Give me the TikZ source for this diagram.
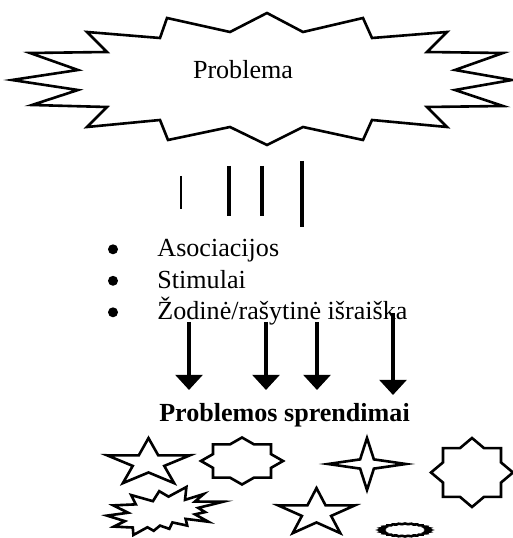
\documentclass[tikz,border=0pt]{standalone}
\usepackage{fontspec}
\setmainfont{Liberation Serif}
\usetikzlibrary{arrows.meta}

\tikzset{
  outline/.style={draw=black, line width=1.2pt, fill=white},
  txt/.style={font=\fontsize{12}{14}\selectfont, inner sep=0pt},
  dot/.style={circle, fill=black, inner sep=0pt, minimum size=4.6pt},
  dnarrow/.style={line width=1.6pt, -{Triangle[width=12.4pt,length=7pt]}}
}

% star polygon: centre, x radius, y radius, points, inner ratio, start angle
\newcommand{\starpoly}[6]{%
  \begin{scope}[shift={#1}, xscale=#2, yscale=#3]
    \pgfmathtruncatemacro{\lastk}{2*#4-1}
    \draw[outline] (#6:1) \foreach \k [evaluate=\k as \r using {1-(1-#5)*mod(\k,2)}] in {1,...,\lastk} {-- ({#6+180/#4*\k}:\r)} -- cycle;
  \end{scope}}

\begin{document}
\begin{tikzpicture}[x=0.46pt, y=0.46pt]
\useasboundingbox (0,0) rectangle (513,538);
% Problem burst at the top
\draw[outline] (267,525) -- (303,506) -- (363,520) -- (372,500) -- (447,506) -- (427,486)
  -- (503,485) -- (455,468) -- (512,458) -- (455,448) -- (503,432) -- (427,431)
  -- (447,411) -- (372,418) -- (363,398) -- (303,411) -- (267,393) -- (230,411)
  -- (168,398) -- (160,418) -- (87,411) -- (107,431) -- (32,433) -- (78,448)
  -- (12,458) -- (78,468) -- (30,485) -- (107,486) -- (87,506) -- (160,500)
  -- (167,520) -- (230,506) -- cycle;
\node[txt, anchor=base] (prob) at (243,459) {Problema};
% Short vertical strokes
\foreach \x/\ya/\yb/\w [count=\i] in {181/362/329/1.05, 229/372/322/1.4, 262/372/322/1.4, 302/377/311/1.5} {
  \coordinate (top\i) at (\x,\ya);
  \coordinate (bot\i) at (\x,\yb);
  \draw[line width=\w pt] (top\i) -- (bot\i);
}
% Bullet list
\foreach \t [count=\i] in {Asociacijos, Stimulai, {Žodinė/rašytinė išraiška}} {
  \node[dot] (dot\i) at (113,{288.7-31.5*(\i-1)}) {};
  \node[txt, anchor=base west] (item\i) at (157,{281-31.5*(\i-1)}) {\t};
}
% Arrows down
\foreach \x/\ya/\yb [count=\i] in {189/216/148, 266/216/148, 317/216/148, 393/225/143} {
  \coordinate (as\i) at (\x,\ya);
  \coordinate (ae\i) at (\x,\yb);
  \draw[dnarrow] (as\i) -- (ae\i);
}
\node[txt, font=\fontsize{12}{14}\selectfont\bfseries, anchor=base] (sol) at (284.5,116) {Problemos sprendimai};
% Solution shapes
\starpoly{(148.5,75)}{43.6}{24.9}{5}{0.38}{90}
\starpoly{(242,77)}{41}{23.5}{8}{0.765}{0}
\starpoly{(367,74)}{39}{26}{4}{0.25}{90}
\starpoly{(472,65.5)}{41}{34.5}{8}{0.765}{0}
\starpoly{(316.5,25)}{40.5}{24.9}{5}{0.38}{90}
\starpoly{(405,8)}{25}{6.5}{24}{0.9}{0}
% explosion
\begin{scope}[shift={(107,51)}, xscale=0.537, yscale=-0.2222]
\draw[outline] (114.62,43.42) -- (147.90,0) -- (145.25,57.77) -- (180.07,31.72)
  -- (163.80,65.32) -- (216,66.45) -- (169.85,94.02) -- (182.70,112.90)
  -- (163.80,123.10) -- (188.77,156.32) -- (146.40,143.50) -- (149.42,173.70)
  -- (121.80,159.35) -- (116.12,188.42) -- (98.72,173.70) -- (87.00,197.12)
  -- (75.27,181.25) -- (49.17,216) -- (48.05,182.40) -- (12.85,178.25)
  -- (33.30,153.70) -- (0,128.77) -- (39.35,115.92) -- (11.72,82.70)
  -- (53.72,78.17) -- (45.02,36.25) -- (85.50,63.82) -- (97.22,18.87) -- cycle;
\end{scope}
\end{tikzpicture}
\end{document}
